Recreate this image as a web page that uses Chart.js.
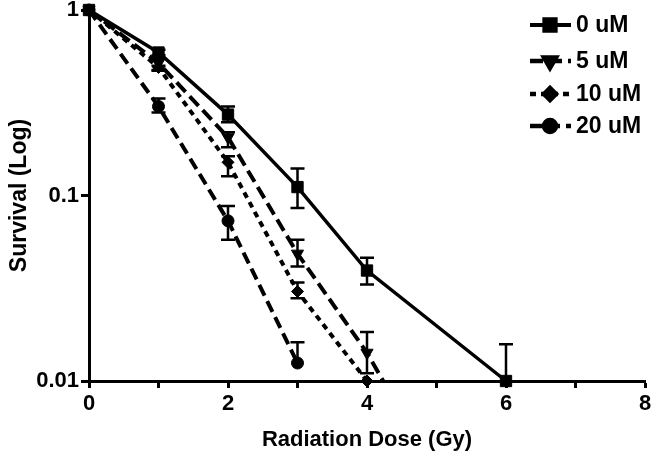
<!DOCTYPE html>
<html>
<head>
<meta charset="utf-8">
<script src="https://cdn.jsdelivr.net/npm/chart.js@4.4.1/dist/chart.umd.min.js"></script>
<style>
  html, body { margin: 0; padding: 0; background: #fff; }
  #wrap { width: 654px; height: 455px; }
</style>
</head>
<body>
<div id="wrap"><canvas id="survChart"></canvas></div>
<script>
// series data (survival fraction vs dose in Gy)
const seriesNames = ['0 uM', '5 uM', '10 uM', '20 uM'];

const doses0 = [0, 1, 2, 3, 4, 6];
const surv0  = [1, 0.59, 0.273, 0.111, 0.0394, 0.01];
const hi0    = [1, 0.61, 0.302, 0.140, 0.0462, 0.0158];
const lo0    = [1, 0.57, 0.248, 0.0857, 0.0331, 0.01];

const doses5 = [0, 1, 2, 3, 4, 6];
const surv5  = [1, 0.518, 0.206, 0.0486, 0.0142, 0.0007];
const hi5    = [1, 0.55, 0.219, 0.0577, 0.0184, 0.0007];
const lo5    = [1, 0.475, 0.182, 0.0414, 0.011, 0.0007];

const doses10 = [0, 1, 2, 3, 4];
const surv10  = [1, 0.49, 0.151, 0.0304, 0.01];
const hi10    = [1, 0.5, 0.163, 0.034, 0.01];
const lo10    = [1, 0.47, 0.127, 0.0279, 0.01];

const doses20 = [0, 1, 2, 3];
const surv20  = [1, 0.302, 0.073, 0.0125];
const hi20    = [1, 0.333, 0.0879, 0.0162];
const lo20    = [1, 0.28, 0.0577, 0.0125];

const xTicks = [0, 1, 2, 3, 4, 5, 6, 7, 8];
const yTicks = [0.01, 0.1, 1];

const FONT = "'Liberation Sans', Arial, sans-serif";

function pts(xs, ys) {
  return xs.map((x, i) => ({ x: x, y: ys[i] }));
}

const errs = [
  { x: doses0, hi: hi0, lo: lo0, y: surv0 },
  { x: doses5, hi: hi5, lo: lo5, y: surv5 },
  { x: doses10, hi: hi10, lo: lo10, y: surv10 },
  { x: doses20, hi: hi20, lo: lo20, y: surv20 }
];

// error bars with caps, drawn through the scales
const errorBars = {
  id: 'errorBars',
  afterDatasetsDraw(chart) {
    const ctx = chart.ctx;
    const xs = chart.scales.x, ys = chart.scales.y;
    const area = chart.chartArea;
    ctx.save();
    ctx.beginPath();
    ctx.rect(area.left - 10, area.top - 10, area.right - area.left + 20, area.bottom - area.top + 10);
    ctx.clip();
    ctx.strokeStyle = '#000';
    ctx.lineWidth = 2.5;
    errs.forEach(e => {
      e.x.forEach((dx, i) => {
        const px = xs.getPixelForValue(dx);
        const py = ys.getPixelForValue(e.y[i]);
        [e.hi[i], e.lo[i]].forEach(v => {
          if (v === e.y[i]) return;
          const pv = ys.getPixelForValue(v);
          ctx.beginPath();
          ctx.moveTo(px, py);
          ctx.lineTo(px, pv);
          ctx.moveTo(px - 7, pv);
          ctx.lineTo(px + 7, pv);
          ctx.stroke();
        });
      });
    });
    ctx.restore();
  }
};

// legend: line sample with marker, then label
const sideLegend = {
  id: 'sideLegend',
  afterDraw(chart) {
    const ctx = chart.ctx;
    const rows = [25, 61, 94, 126];
    ctx.save();
    chart.data.datasets.forEach((ds, i) => {
      const y = rows[i];
      ctx.strokeStyle = '#000';
      ctx.lineWidth = ds.borderWidth + 0.5;
      ctx.setLineDash(ds.borderDash || []);
      ctx.beginPath();
      ctx.moveTo(530, y);
      ctx.lineTo(571, y);
      ctx.stroke();
      ctx.setLineDash([]);
      ctx.fillStyle = '#000';
      Chart.helpers.drawPoint(ctx, {
        pointStyle: ds.pointStyle,
        radius: ds.pointRadius,
        rotation: ds.pointRotation || 0,
        borderWidth: 1
      }, 550, y);
      ctx.font = 'bold 23px ' + FONT;
      ctx.textBaseline = 'middle';
      ctx.textAlign = 'left';
      ctx.fillText(seriesNames[i], 576, y + 1);
    });
    ctx.restore();
  }
};

function mkSet(i, xs, ys, style, radius, dash, rot, width, clip) {
  return {
    label: seriesNames[i],
    data: pts(xs, ys),
    borderColor: '#000',
    backgroundColor: '#000',
    pointBackgroundColor: '#000',
    pointBorderColor: '#000',
    borderWidth: width,
    borderDash: dash,
    pointStyle: style,
    pointRadius: radius,
    pointRotation: rot,
    pointBorderWidth: 1,
    tension: 0,
    clip: clip
  };
}

const fullClip = { left: 12, top: 12, right: 12, bottom: 12 };
const flushBottom = { left: 12, top: 12, right: 12, bottom: 0 };

new Chart(document.getElementById('survChart'), {
  type: 'line',
  data: {
    datasets: [
      mkSet(0, doses0, surv0, 'rect', 8, [], 0, 3.5, fullClip),
      mkSet(1, doses5, surv5, 'triangle', 7, [13, 6], 180, 4, flushBottom),
      mkSet(2, doses10, surv10, 'rectRot', 6, [6, 5], 0, 4, fullClip),
      mkSet(3, doses20, surv20, 'circle', 6, [12, 6], 0, 4, fullClip)
    ]
  },
  options: {
    responsive: true,
    maintainAspectRatio: false,
    animation: false,
    layout: { padding: { top: 10, right: 6, left: 0, bottom: 0 } },
    plugins: {
      legend: { display: false },
      tooltip: { enabled: false }
    },
    scales: {
      x: {
        type: 'linear',
        min: 0,
        max: 8,
        afterBuildTicks: s => { s.ticks = xTicks.map(v => ({ value: v })); },
        afterFit: s => { s.height = 74; s.paddingLeft = 0; s.paddingRight = 0; },
        border: { display: true, color: '#000', width: 3 },
        grid: { display: true, drawOnChartArea: false, drawTicks: true, tickLength: 7, tickWidth: 3, tickColor: '#000' },
        ticks: {
          autoSkip: false,
          maxRotation: 0,
          padding: 3,
          color: '#000',
          font: { family: FONT, size: 22, weight: 'bold' },
          callback: v => (v % 2 === 0 ? String(v) : '')
        },
        title: {
          display: true,
          text: 'Radiation Dose (Gy)',
          color: '#000',
          font: { family: FONT, size: 22, weight: 'bold' },
          padding: { top: 0, bottom: 2 }
        }
      },
      y: {
        type: 'logarithmic',
        min: 0.01,
        max: 1,
        afterBuildTicks: s => { s.ticks = yTicks.map(v => ({ value: v })); },
        afterFit: s => { s.width = 89; s.paddingTop = 0; s.paddingBottom = 0; },
        border: { display: true, color: '#000', width: 3 },
        grid: { display: true, drawOnChartArea: false, drawTicks: true, tickLength: 8, tickWidth: 3, tickColor: '#000' },
        ticks: {
          autoSkip: false,
          padding: 2,
          color: '#000',
          font: { family: FONT, size: 22, weight: 'bold' },
          callback: v => String(v)
        },
        title: {
          display: true,
          text: 'Survival (Log)',
          color: '#000',
          font: { family: FONT, size: 23, weight: 'bold' },
          padding: { top: 6, bottom: 0 }
        }
      }
    }
  },
  plugins: [errorBars, sideLegend]
});
</script>
</body>
</html>
